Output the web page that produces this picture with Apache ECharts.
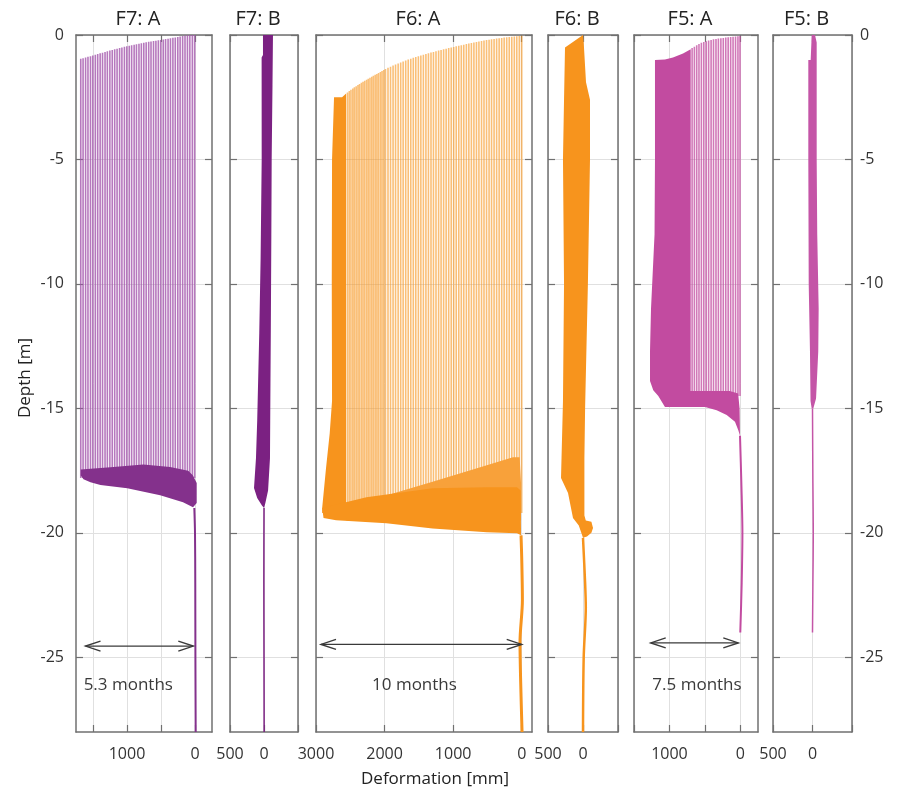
<!DOCTYPE html>
<html>
<head>
<meta charset="utf-8">
<script src="https://cdn.jsdelivr.net/npm/echarts@6/dist/echarts.min.js"></script>
<style>
  html, body { margin: 0; padding: 0; background: #ffffff; }
  #chart { width: 898px; height: 794px; }
</style>
</head>
<body>
<div id="chart"></div>
<script>
// ---------------- data ----------------
const panelTitles = ['F7: A', 'F7: B', 'F6: A', 'F6: B', 'F5: A', 'F5: B'];
const depthTicks = [0, -5, -10, -15, -20, -25];
const depthRange = [-28, 0];
const deformRanges = [[-250, 1750], [-500, 500], [-150, 3000], [-500, 500], [-250, 1500], [-500, 500]];
const deformTicks = [[1500, 1000, 500, 0], [500, 0, -500], [3000, 2000, 1000, 0], [500, 0, -500], [1500, 1000, 500, 0], [500, 0, -500]];
const deformLabels = [[1000, 0], [500, 0], [3000, 2000, 1000, 0], [500, 0], [1000, 0], [500, 0]];

// F7, A-direction: deformation at the head of each profile [mm] and the depth of its head [m]
const f7aTop = [1680, 1646, 1609, 1574, 1537, 1503, 1466, 1431, 1395, 1360, 1323, 1289, 1252, 1217, 1181, 1146,
  1109, 1075, 1038, 1003, 967, 932, 895, 861, 824, 789, 753, 718, 681, 647, 610, 575, 539, 504, 467, 433, 396,
  361, 325, 290, 253, 219, 182, 147, 111, 76, 39, 5];
const f7aCap = [-0.95, -0.93, -0.90, -0.87, -0.85, -0.82, -0.79, -0.76, -0.73, -0.71, -0.68, -0.65, -0.62, -0.60,
  -0.57, -0.55, -0.52, -0.50, -0.47, -0.45, -0.43, -0.41, -0.39, -0.37, -0.35, -0.33, -0.31, -0.29, -0.27, -0.26,
  -0.24, -0.23, -0.21, -0.20, -0.18, -0.16, -0.15, -0.13, -0.11, -0.10, -0.08, -0.06, -0.04, -0.02, -0.01, 0, 0, 0];
const f7aShearTop = -17.8;
// shear zone where all F7 A profiles bend back to zero
const f7aShear = [[1680, -17.45], [1244, -17.36], [760, -17.25], [366, -17.35], [100, -17.5], [30, -17.7],
  [-25, -18.0], [-25, -18.8], [29, -18.97], [176, -18.77], [512, -18.49], [996, -18.21], [1390, -18.08],
  [1537, -17.97], [1640, -17.85], [1680, -17.7]];
const f7aTail = [[10, -19.0], [0, -20], [-4, -22], [-6, -25], [-10, -28]];

// F7, B-direction envelope of all profiles
const f7bBand = [[15, 0], [15, -0.8], [35, -0.9], [34, -5], [50, -9], [70, -12], [100, -15.5], [118, -17],
  [147, -18.2], [100, -18.6], [30, -18.9], [0, -19.0], [-20, -18.8], [-60, -18.3], [-88, -17], [-95, -14],
  [-100, -12], [-108, -8], [-113, -5], [-125, -2], [-132, 0]];
const f7bTail = [[0, -19], [2, -22], [0, -25], [-2, -28]];

// F6, A-direction
const f6aTop = [2540, 2514, 2490, 2463, 2440, 2414, 2388, 2365, 2338, 2314, 2289, 2262, 2238, 2213, 2187, 2163,
  2137, 2112, 2088, 2061, 2037, 2012, 1987, 1950, 1913, 1876, 1840, 1802, 1765, 1729, 1692, 1655, 1618, 1581,
  1545, 1507, 1471, 1434, 1397, 1360, 1323, 1287, 1250, 1212, 1176, 1139, 1102, 1065, 1028, 992, 955, 918, 881,
  845, 807, 771, 734, 697, 660, 624, 586, 550, 513, 476, 440, 403, 366, 329, 292, 256, 219, 182, 145, 108, 72, 35, 0];
const f6aCap = [-2.31, -2.25, -2.20, -2.15, -2.10, -2.06, -2.01, -1.97, -1.92, -1.88, -1.84, -1.80, -1.76, -1.72,
  -1.68, -1.64, -1.60, -1.57, -1.53, -1.49, -1.45, -1.41, -1.37, -1.32, -1.28, -1.23, -1.19, -1.14, -1.10, -1.06,
  -1.02, -0.98, -0.95, -0.91, -0.88, -0.85, -0.82, -0.79, -0.76, -0.73, -0.70, -0.68, -0.65, -0.62, -0.60, -0.57,
  -0.55, -0.52, -0.50, -0.48, -0.45, -0.43, -0.41, -0.39, -0.36, -0.34, -0.32, -0.30, -0.28, -0.26, -0.24, -0.22,
  -0.20, -0.19, -0.17, -0.16, -0.14, -0.13, -0.12, -0.10, -0.09, -0.08, -0.07, -0.06, -0.05, -0.04, -0.03];
const f6aShearTop = -19.2;
// tightly packed latest profiles, the fan of bending profiles and the shear band
const f6aBlock = [[2737, -2.5], [2620, -2.5], [2560, -2.35], [2560, -19.2], [2910, -19.2], [2910, -19.0],
  [2854, -17.4], [2800, -16], [2766, -14.7], [2770, -10], [2766, -5]];
const f6aFan = [[2560, -19.0], [1975, -18.5], [1300, -17.95], [509, -17.28], [128, -16.96], [30, -16.96],
  [10, -18.0], [10, -19.5], [2560, -19.5]];
const f6aShear = [[2910, -19.0], [2265, -18.57], [1300, -18.21], [509, -18.17], [69, -18.17], [15, -18.3],
  [10, -20.1], [69, -20.02], [509, -19.98], [1300, -19.82], [1974, -19.61], [2707, -19.49], [2890, -19.4]];
const f6aTail = [[10, -20.1], [0, -21], [-10, -22.7], [25, -24.4], [15, -26], [-5, -28]];

// F6, B-direction envelope
const f6bBand = [[0, 0], [257, -0.5], [271, -2.6], [286, -5], [271, -10], [286, -14.7], [314, -17.8], [214, -18.4],
  [143, -19.4], [60, -19.7], [0, -20.2], [-57, -20.15], [-120, -20.0], [-143, -19.8], [-120, -19.55], [-40, -19.5],
  [-20, -19.3], [-20, -17], [-30, -15], [-70, -10], [-100, -5], [-100, -2.6], [-43, -1.9], [-10, -0.3]];
const f6bTail = [[0, -20.2], [-30, -22], [-40, -23], [-10, -25], [0, -28]];

// F5, A-direction
const f5aTop = [680, 648, 615, 583, 549, 515, 481, 447, 412, 378, 343, 309, 274, 240, 205, 171, 136, 102, 67, 33, 4];
const f5aCap = [-0.52, -0.47, -0.41, -0.36, -0.31, -0.28, -0.25, -0.22, -0.20, -0.17, -0.16, -0.14, -0.13, -0.12,
  -0.10, -0.09, -0.08, -0.07, -0.06, -0.05, -0.04];
const f5aShearTop = -14.5;
const f5aBlock = [[1204, -1.0], [1063, -0.98], [950, -0.9], [808, -0.74], [700, -0.57], [700, -14.3], [400, -14.3],
  [150, -14.3], [30, -14.4], [10, -15.0], [4, -16.1], [28, -15.88], [75, -15.54], [192, -15.27], [333, -15.07],
  [498, -14.94], [1063, -14.94], [1157, -14.5], [1228, -14.27], [1274, -13.9], [1274, -12.7], [1260, -11],
  [1210, -8], [1204, -5]];
const f5aTail = [[4, -16.1], [-15, -18], [-30, -20], [-20, -22], [0, -24]];

// F5, B-direction envelope
const f5bBand = [[10, 0], [23, -1.0], [53, -1.0], [53, -5], [48, -10], [32, -12.7], [25, -14.7], [10, -15.0],
  [-10, -15.0], [-45, -14.6], [-73, -12.7], [-78, -11], [-60, -8], [-53, -5], [-53, -0.3], [-32, 0]];
const f5bTail = [[0, -15], [-5, -18], [-10, -20], [-5, -22], [0, -24]];

// monitoring periods
const arrowPanels = [0, 2, 4];
const arrowFrom = [1610, 2927, 1264];
const arrowTo = [25, 0, 28];
const arrowDepth = [-24.55, -24.48, -24.42];
const arrowText = ['5.3 months', '10 months', '7.5 months'];
const arrowTextDef = [981, 1564, 611];
const arrowTextDepth = -26.1;

// ---------------- layout & style ----------------
const FONT = '"Open Sans", "Noto Sans", sans-serif';
const gridLeft = [76, 230, 316, 548, 634, 773];
const gridWidth = [136, 68, 216, 70, 124, 79];
const gridTop = 35, gridHeight = 697;
const frameColor = '#707070';
const splitColor = '#e0e0e0';
const purple = '#a252aa', purpleDark = '#84318c', purpleB = '#7b2182';
const orange = '#f7941d', orangeFan = '#f8a13a';
const magenta = '#c24ba0', magentaB = '#c455a7';
const plainNumber = v => String(v);

const grids = [], xAxes = [], yAxes = [];
for (let i = 0; i < 6; i++) {
  grids.push({ left: gridLeft[i], top: gridTop, width: gridWidth[i], height: gridHeight,
    containLabel: false, outerBoundsMode: 'none' });
  const xBase = {
    gridIndex: i, type: 'value', inverse: true, min: deformRanges[i][0], max: deformRanges[i][1],
    axisLine: { show: true, onZero: false, lineStyle: { color: frameColor, width: 1.5 } },
    axisTick: { show: true, inside: true, length: 7, customValues: deformTicks[i], lineStyle: { color: frameColor, width: 1.2 } }
  };
  xAxes.push(Object.assign({}, xBase, {
    position: 'bottom',
    axisLabel: { show: true, customValues: deformLabels[i], margin: 14, fontSize: 16, color: '#333',
      fontFamily: FONT, showMinLabel: true, showMaxLabel: true, formatter: plainNumber },
    splitLine: { show: true, lineStyle: { color: splitColor, width: 1 } }
  }));
  xAxes.push(Object.assign({}, xBase, {
    position: 'top', axisLabel: { show: false }, splitLine: { show: false }
  }));
  const yBase = {
    gridIndex: i, type: 'value', min: depthRange[0], max: depthRange[1],
    axisLine: { show: true, onZero: false, lineStyle: { color: frameColor, width: 1.5 } },
    axisTick: { show: true, inside: true, length: 7, customValues: depthTicks, lineStyle: { color: frameColor, width: 1.2 } }
  };
  yAxes.push(Object.assign({}, yBase, {
    position: 'left',
    axisLabel: { show: i === 0, customValues: depthTicks, margin: 12, fontSize: 16, color: '#333', fontFamily: FONT,
      showMinLabel: true, showMaxLabel: true, formatter: plainNumber, padding: [6, 0, 0, 0] },
    splitLine: { show: true, lineStyle: { color: splitColor, width: 1 } }
  }));
  yAxes.push(Object.assign({}, yBase, {
    position: 'right',
    axisLabel: { show: i === 5, customValues: depthTicks, margin: 8, fontSize: 16, color: '#333', fontFamily: FONT,
      showMinLabel: true, showMaxLabel: true, formatter: plainNumber, padding: [6, 0, 0, 0] },
    splitLine: { show: false }
  }));
}

// one vertical stroke per profile, from its head down into the shear zone
function profileSeries(gi, tops, caps, shearTop, color, opacity, width) {
  return {
    type: 'custom', xAxisIndex: gi * 2, yAxisIndex: gi * 2, z: 2, silent: true,
    data: tops.map((t, k) => [t, caps[k]]),
    encode: { x: 0, y: 1 },
    renderItem: (params, api) => {
      const a = api.coord([api.value(0), api.value(1)]);
      const b = api.coord([api.value(0), shearTop]);
      return { type: 'line', shape: { x1: a[0], y1: a[1], x2: b[0], y2: b[1] },
        style: { stroke: color, lineWidth: width, opacity: opacity } };
    }
  };
}

// filled envelopes where the profiles overlap
function areaSeries(gi, polys, fills) {
  return {
    type: 'custom', xAxisIndex: gi * 2, yAxisIndex: gi * 2, z: 3, silent: true,
    data: polys.map(p => p[0]),
    encode: { x: 0, y: 1 },
    renderItem: (params, api) => ({
      type: 'polygon',
      shape: { points: polys[params.dataIndex].map(pt => api.coord(pt)) },
      style: { fill: fills[params.dataIndex] }
    })
  };
}

function tailSeries(gi, pts, color, width) {
  return {
    type: 'line', xAxisIndex: gi * 2, yAxisIndex: gi * 2, z: 4, silent: true,
    data: pts, symbol: 'none', smooth: 0.3,
    lineStyle: { color: color, width: width }
  };
}

function arrowSeries(k) {
  const gi = arrowPanels[k];
  return {
    type: 'custom', xAxisIndex: gi * 2, yAxisIndex: gi * 2, z: 5, silent: true,
    data: [[arrowFrom[k], arrowDepth[k], arrowTo[k]]],
    encode: { x: 0, y: 1 },
    renderItem: (params, api) => {
      const a = api.coord([api.value(0), api.value(1)]);
      const b = api.coord([api.value(2), api.value(1)]);
      const t = api.coord([arrowTextDef[k], arrowTextDepth]);
      const st = { stroke: '#3a3a3a', lineWidth: 1.4, fill: null };
      const head = 15, half = 5;
      return { type: 'group', children: [
        { type: 'line', shape: { x1: a[0], y1: a[1], x2: b[0], y2: b[1] }, style: st },
        { type: 'polyline', shape: { points: [[a[0] + head, a[1] - half], [a[0], a[1]], [a[0] + head, a[1] + half]] }, style: st },
        { type: 'polyline', shape: { points: [[b[0] - head, b[1] - half], [b[0], b[1]], [b[0] - head, b[1] + half]] }, style: st },
        { type: 'text', x: t[0], y: t[1], style: { text: arrowText[k], align: 'center', verticalAlign: 'middle',
          font: '17px ' + FONT, fill: '#3a3a3a' } }
      ] };
    }
  };
}

const series = [
  profileSeries(0, f7aTop, f7aCap, f7aShearTop, purple, 0.78, 1.6),
  areaSeries(0, [f7aShear], [purpleDark]),
  tailSeries(0, f7aTail, purpleDark, 2),
  areaSeries(1, [f7bBand], [purpleB]),
  tailSeries(1, f7bTail, purpleB, 1.5),
  profileSeries(2, f6aTop, f6aCap, f6aShearTop, orange, 0.6, 1.6),
  areaSeries(2, [f6aBlock, f6aFan, f6aShear], [orange, orangeFan, orange]),
  tailSeries(2, f6aTail, orange, 3),
  areaSeries(3, [f6bBand], [orange]),
  tailSeries(3, f6bTail, orange, 2.5),
  profileSeries(4, f5aTop, f5aCap, f5aShearTop, magenta, 0.75, 1.6),
  areaSeries(4, [f5aBlock], [magenta]),
  tailSeries(4, f5aTail, magenta, 2),
  areaSeries(5, [f5bBand], [magentaB]),
  tailSeries(5, f5bTail, magentaB, 1.5),
  arrowSeries(0), arrowSeries(1), arrowSeries(2)
];

const graphics = panelTitles.map((t, i) => ({
  type: 'text', x: gridLeft[i] + gridWidth[i] / 2 - 6, y: 19,
  style: { text: t, align: 'center', verticalAlign: 'middle', font: '20px ' + FONT, fill: '#222' }
}));
graphics.push({
  type: 'text', x: 25, y: 378, rotation: Math.PI / 2,
  style: { text: 'Depth [m]', align: 'center', verticalAlign: 'middle', font: '17px ' + FONT, fill: '#222' }
});
graphics.push({
  type: 'text', x: 435, y: 779,
  style: { text: 'Deformation [mm]', align: 'center', verticalAlign: 'middle', font: '17px ' + FONT, fill: '#222' }
});

const chart = echarts.init(document.getElementById('chart'), null, { renderer: 'canvas' });
chart.setOption({
  animation: false,
  backgroundColor: '#ffffff',
  grid: grids,
  xAxis: xAxes,
  yAxis: yAxes,
  series: series,
  graphic: graphics
});
</script>
</body>
</html>
